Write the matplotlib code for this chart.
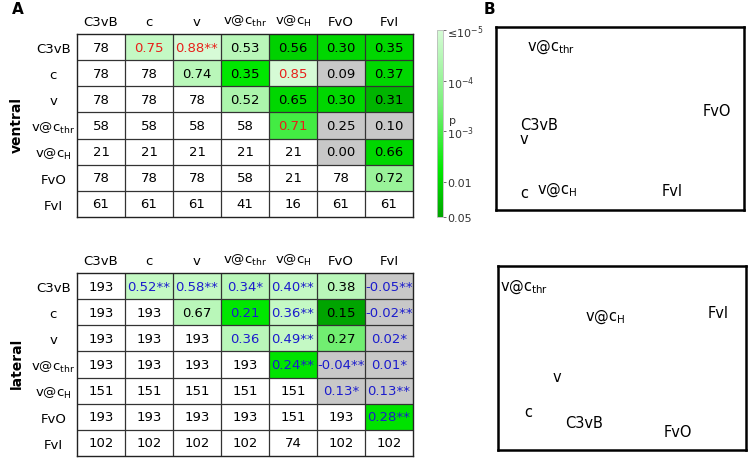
import numpy as np
import matplotlib
matplotlib.use("Agg")
import matplotlib.pyplot as plt
from matplotlib.colors import LogNorm, LinearSegmentedColormap
from matplotlib.patches import Rectangle
import matplotlib.cm as cm

labels = ["C3vB", "c", "v", r"v@c$_\mathrm{thr}$", r"v@c$_\mathrm{H}$", "FvO", "FvI"]

# ventral: correlations (upper triangle), counts (lower triangle + diagonal)
ventral_r = [
    ["", "0.75", "0.88**", "0.53", "0.56", "0.30", "0.35"],
    ["", "", "0.74", "0.35", "0.85", "0.09", "0.37"],
    ["", "", "", "0.52", "0.65", "0.30", "0.31"],
    ["", "", "", "", "0.71", "0.25", "0.10"],
    ["", "", "", "", "", "0.00", "0.66"],
    ["", "", "", "", "", "", "0.72"],
    ["", "", "", "", "", "", ""],
]
ventral_p = [
    [0, 2e-5, 1e-5, 3e-5, 0.012, 0.01, 0.01],
    [0, 0, 3e-5, 0.006, 1e-5, 1, 0.01],
    [0, 0, 0, 5e-5, 0.01, 0.01, 0.03],
    [0, 0, 0, 0, 0.0012, 1, 1],
    [0, 0, 0, 0, 0, 1, 0.01],
    [0, 0, 0, 0, 0, 0, 1e-4],
    [0, 0, 0, 0, 0, 0, 0],
]
ventral_tc = [
    "krrkkkk",
    "kkkkrkk",
    "kkkkkkk",
    "kkkkrkk",
    "kkkkkkk",
    "kkkkkkk",
    "kkkkkkk",
]
ventral_n = [
    [78],
    [78, 78],
    [78, 78, 78],
    [58, 58, 58, 58],
    [21, 21, 21, 21, 21],
    [78, 78, 78, 58, 21, 78],
    [61, 61, 61, 41, 16, 61, 61],
]

lateral_r = [
    ["", "0.52**", "0.58**", "0.34*", "0.40**", "0.38", "-0.05**"],
    ["", "", "0.67", "0.21", "0.36**", "0.15", "-0.02**"],
    ["", "", "", "0.36", "0.49**", "0.27", "0.02*"],
    ["", "", "", "", "0.24**", "-0.04**", "0.01*"],
    ["", "", "", "", "", "0.13*", "0.13**"],
    ["", "", "", "", "", "", "0.28**"],
    ["", "", "", "", "", "", ""],
]
lateral_p = [
    [0, 2e-5, 2e-5, 3e-5, 2e-5, 3e-5, 1],
    [0, 0, 3e-5, 0.006, 2e-5, 0.05, 1],
    [0, 0, 0, 3e-5, 2e-5, 4e-4, 1],
    [0, 0, 0, 0, 0.007, 1, 1],
    [0, 0, 0, 0, 0, 1, 1],
    [0, 0, 0, 0, 0, 0, 0.007],
    [0, 0, 0, 0, 0, 0, 0],
]
lateral_tc = [
    "kbbbbkb",
    "kkkbbkb",
    "kkkbbkb",
    "kkkkbbb",
    "kkkkkbb",
    "kkkkkkb",
    "kkkkkkk",
]
lateral_n = [
    [193],
    [193, 193],
    [193, 193, 193],
    [193, 193, 193, 193],
    [151, 151, 151, 151, 151],
    [193, 193, 193, 193, 151, 193],
    [102, 102, 102, 102, 74, 102, 102],
]

# panel B positions
top_x = [0.097, 0.097, 0.097, 0.125, 0.165, 0.835, 0.669]
top_y = [0.468, 0.098, 0.392, 0.896, 0.115, 0.541, 0.109]
bot_x = [0.27, 0.105, 0.218, 0.008, 0.351, 0.669, 0.847]
bot_y = [0.147, 0.207, 0.397, 0.891, 0.728, 0.103, 0.75]

cmap = LinearSegmentedColormap.from_list(
    "pg", [(0, "#d6fbd6"), (0.4, "#7cef7c"), (0.75, "#00e800"), (1, "#00a400")])
norm = LogNorm(1e-5, 0.05)
gray = "#c8c8c8"
tcol = {"k": "black", "r": "#e8201a", "b": "#1c1ccc"}

fig = plt.figure(figsize=(7.5, 4.6), dpi=100)


def draw_table(ax, r, p, tc, n):
    k = len(labels)
    for i in range(k):
        for j in range(k):
            if j > i:
                fc = gray if p[i][j] > 0.05 else cmap(norm(max(p[i][j], 1e-5)))
                ax.add_patch(Rectangle((j, i), 1, 1, facecolor=fc, edgecolor="none"))
                ax.text(j + 0.5, i + 0.5, r[i][j], ha="center", va="center",
                        fontsize=9.5, color=tcol[tc[i][j]])
            else:
                ax.text(j + 0.5, i + 0.5, str(n[i][j]), ha="center", va="center",
                        fontsize=9.5, color="black")
    for t in range(1, k):
        ax.axhline(t, color="#333333", lw=0.9)
        ax.axvline(t, color="#333333", lw=0.9)
    ax.set_xlim(0, k)
    ax.set_ylim(k, 0)
    ax.set_xticks(np.arange(k) + 0.5)
    ax.set_yticks(np.arange(k) + 0.5)
    ax.set_xticklabels(labels, fontsize=9.5)
    ax.set_yticklabels(labels, fontsize=9.5)
    ax.xaxis.tick_top()
    ax.tick_params(axis="x", length=0, pad=4)
    for lab in ax.get_yticklabels():
        lab.set_horizontalalignment("center")
    ax.tick_params(axis="y", length=0, pad=17)
    for s in ax.spines.values():
        s.set_color("#222222")
        s.set_linewidth(1)


ax1 = fig.add_axes([77 / 750, 1 - 218 / 460, 336 / 750, 183 / 460])
draw_table(ax1, ventral_r, ventral_p, ventral_tc, ventral_n)
ax2 = fig.add_axes([77 / 750, 1 - 457 / 460, 336 / 750, 183 / 460])
draw_table(ax2, lateral_r, lateral_p, lateral_tc, lateral_n)
fig.text(17 / 750, 1 - 125 / 460, "ventral", rotation=90, fontsize=10,
         fontweight="bold", ha="center", va="center")
fig.text(17 / 750, 1 - 363 / 460, "lateral", rotation=90, fontsize=10,
         fontweight="bold", ha="center", va="center")

cax = fig.add_axes([437 / 750, 1 - 218 / 460, 6 / 750, 187 / 460])
sm = cm.ScalarMappable(norm=norm, cmap=cmap)
cb = fig.colorbar(sm, cax=cax)
cax.invert_yaxis()
cb.set_ticks([1e-5, 1e-4, 1e-3, 1e-2, 0.05])
cb.set_ticklabels([r"≤10$^{-5}$", r"10$^{-4}$", r"10$^{-3}$", "0.01", "0.05"])
cax.minorticks_off()
cax.tick_params(labelsize=8, length=2, width=0.5, colors="#333333", pad=1)
cb.outline.set_edgecolor("#bbbbbb")
cb.outline.set_linewidth(0.6)
cax.text(2.0, 0.49, "p", transform=cax.transAxes, fontsize=8, color="#333333",
         ha="left", va="bottom")

bx1 = fig.add_axes([496 / 750, 1 - 211 / 460, 248 / 750, 183 / 460])
bx2 = fig.add_axes([498 / 750, 1 - 451 / 460, 248 / 750, 184 / 460])
for bx, xs, ys in [(bx1, top_x, top_y), (bx2, bot_x, bot_y)]:
    for lab, x, y in zip(labels, xs, ys):
        bx.text(x, y, lab, fontsize=10.5, ha="left", va="center")
    bx.set_xlim(0, 1)
    bx.set_ylim(0, 1)
    bx.set_xticks([])
    bx.set_yticks([])
    for s in bx.spines.values():
        s.set_linewidth(1.8)

fig.text(12 / 750, 1 - 10 / 460, "A", fontsize=11, fontweight="bold", va="center", ha="left")
fig.text(484 / 750, 1 - 10 / 460, "B", fontsize=11, fontweight="bold", va="center", ha="left")

fig.savefig("out.png", dpi=100)
